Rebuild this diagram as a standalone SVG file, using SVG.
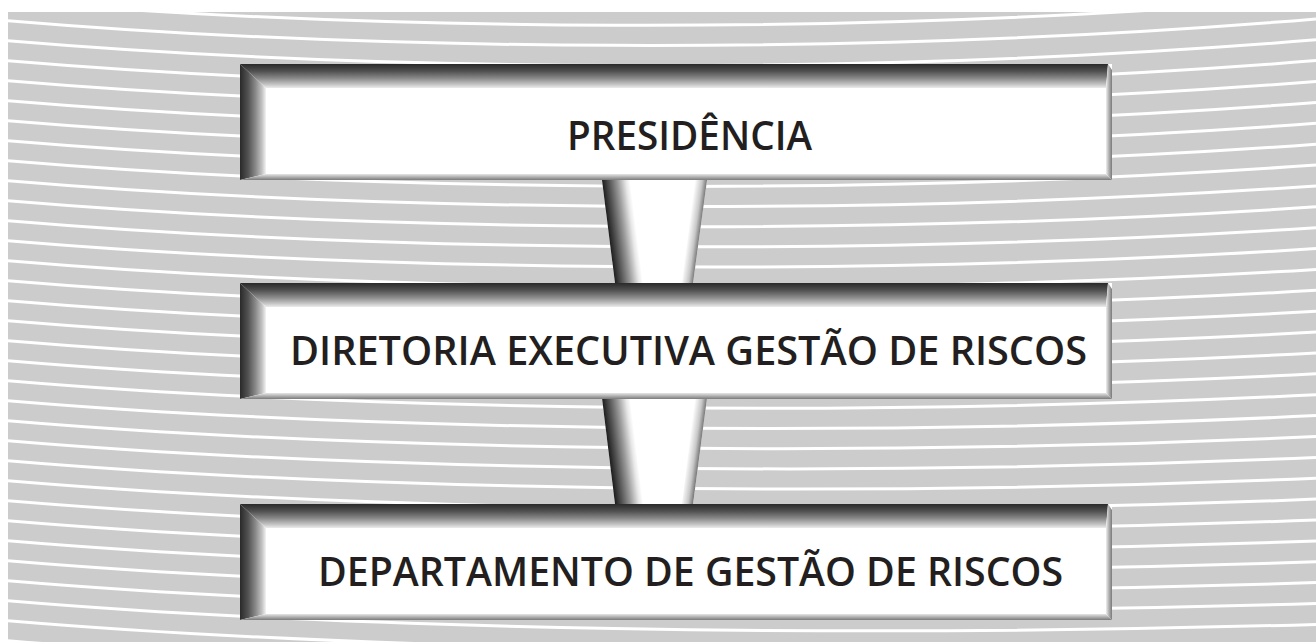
<svg xmlns="http://www.w3.org/2000/svg" width="1316" height="642" viewBox="0 0 1316 642">
<style>
.wl{fill:none;stroke:#ffffff;stroke-width:3}
.lbl{font-family:"Open Sans","Liberation Sans",sans-serif;font-weight:600;font-size:39px;fill:#231f20}
</style>
<defs>
<clipPath id="bgclip"><rect x="8" y="12" width="1308" height="630"/></clipPath>
<linearGradient id="gTop" x1="0" y1="0" x2="0" y2="1">
<stop offset="0" stop-color="#2a2a2a"/><stop offset="0.3" stop-color="#505050"/><stop offset="0.6" stop-color="#8a8a8a"/><stop offset="0.85" stop-color="#c4c4c4"/><stop offset="1" stop-color="#ececec"/>
</linearGradient>
<linearGradient id="gLeft" x1="0" y1="0" x2="1" y2="0">
<stop offset="0" stop-color="#2a2a2a"/><stop offset="0.3" stop-color="#505050"/><stop offset="0.6" stop-color="#8a8a8a"/><stop offset="0.85" stop-color="#c4c4c4"/><stop offset="1" stop-color="#f4f4f4"/>
</linearGradient>
<linearGradient id="gBot" x1="0" y1="0" x2="0" y2="1">
<stop offset="0" stop-color="#e6e6e6"/><stop offset="0.5" stop-color="#b0b0b0"/><stop offset="1" stop-color="#7a7a7a"/>
</linearGradient>
<linearGradient id="gRight" x1="0" y1="0" x2="1" y2="0">
<stop offset="0" stop-color="#eeeeee"/><stop offset="0.5" stop-color="#b0b0b0"/><stop offset="1" stop-color="#7a7a7a"/>
</linearGradient>
<linearGradient id="cL" gradientUnits="userSpaceOnUse" x1="602" y1="0" x2="630" y2="0" gradientTransform="skewX(7.2)">
<stop offset="0" stop-color="#1e1e1e"/><stop offset="0.25" stop-color="#555555"/><stop offset="0.55" stop-color="#9a9a9a"/><stop offset="0.85" stop-color="#e8e8e8"/><stop offset="1" stop-color="#ffffff"/>
</linearGradient>
<linearGradient id="cR" gradientUnits="userSpaceOnUse" x1="695" y1="0" x2="707" y2="0" gradientTransform="skewX(-7.7)">
<stop offset="0" stop-color="#ffffff"/><stop offset="0.6" stop-color="#c8c8c8"/><stop offset="1" stop-color="#7a7a7a"/>
</linearGradient>
<g id="box">
<rect x="0" y="0" width="872" height="116" fill="#ffffff"/>
<polygon points="0,0 868,0 866,24 26,24" fill="url(#gTop)"/>
<polygon points="0,0 26,24 26,110 0,116" fill="url(#gLeft)"/>
<polygon points="0,116 872,116 866,110 26,110" fill="url(#gBot)"/>
<polygon points="868,0 870,3 872,6 872,116 866,110 866,24" fill="url(#gRight)"/>
</g>
</defs>
<rect width="1316" height="642" fill="#ffffff"/>
<g id="background" clip-path="url(#bgclip)">
<rect x="8" y="12" width="1308" height="630" fill="#cccccc"/>
<path class="wl" d="M0 -60 C350 -30 850 -22 1316 -64.6"/>
<path class="wl" d="M0 -40 C350 -10 850 -2 1316 -43.8"/>
<path class="wl" d="M0 -20 C350 10 850 18 1316 -22.9"/>
<path class="wl" d="M0 0 C350 30 850 38 1316 -2"/>
<path class="wl" d="M0 20 C350 50 850 58 1316 18.9"/>
<path class="wl" d="M0 40 C350 70 850 78 1316 39.8"/>
<path class="wl" d="M0 60 C350 90 850 98 1316 60.6"/>
<path class="wl" d="M0 80 C350 110 850 118 1316 81.5"/>
<path class="wl" d="M0 100 C350 130 850 138 1316 102.4"/>
<path class="wl" d="M0 120 C350 150 850 158 1316 123.3"/>
<path class="wl" d="M0 140 C350 170 850 178 1316 144.2"/>
<path class="wl" d="M0 160 C350 190 850 198 1316 165"/>
<path class="wl" d="M0 180 C350 210 850 218 1316 185.9"/>
<path class="wl" d="M0 200 C350 230 850 238 1316 206.8"/>
<path class="wl" d="M0 220 C350 250 850 258 1316 227.7"/>
<path class="wl" d="M0 240 C350 270 850 278 1316 248.6"/>
<path class="wl" d="M0 260 C350 290 850 298 1316 269.4"/>
<path class="wl" d="M0 280 C350 310 850 318 1316 290.3"/>
<path class="wl" d="M0 300 C350 330 850 338 1316 311.2"/>
<path class="wl" d="M0 320 C350 350 850 358 1316 332.1"/>
<path class="wl" d="M0 340 C350 370 850 378 1316 353"/>
<path class="wl" d="M0 360 C350 390 850 398 1316 373.8"/>
<path class="wl" d="M0 380 C350 410 850 418 1316 394.7"/>
<path class="wl" d="M0 400 C350 430 850 438 1316 415.6"/>
<path class="wl" d="M0 420 C350 450 850 458 1316 436.5"/>
<path class="wl" d="M0 440 C350 470 850 478 1316 457.4"/>
<path class="wl" d="M0 460 C350 490 850 498 1316 478.2"/>
<path class="wl" d="M0 480 C350 510 850 518 1316 499.1"/>
<path class="wl" d="M0 500 C350 530 850 538 1316 520"/>
<path class="wl" d="M0 520 C350 550 850 558 1316 540.9"/>
<path class="wl" d="M0 540 C350 570 850 578 1316 561.8"/>
<path class="wl" d="M0 560 C350 590 850 598 1316 582.6"/>
<path class="wl" d="M0 580 C350 610 850 618 1316 603.5"/>
<path class="wl" d="M0 600 C350 630 850 638 1316 624.4"/>
<path class="wl" d="M0 620 C350 650 850 658 1316 645.3"/>
<path class="wl" d="M0 640 C350 670 850 678 1316 666.2"/>
</g>
<g id="connectors">
<g transform="translate(0,180)">
<polygon points="602,0 707,0 693,103 615,103" fill="#ffffff"/>
<polygon points="602,0 630,0 643,103 615,103" fill="url(#cL)"/>
<polygon points="695,0 707,0 693,103 682,103" fill="url(#cR)"/>
</g>
<g transform="translate(0,398)">
<polygon points="602,0 707,0 693,106 615,106" fill="#ffffff"/>
<polygon points="602,0 630,0 643,106 615,106" fill="url(#cL)"/>
<polygon points="695,0 707,0 693,106 682,106" fill="url(#cR)"/>
</g>
</g>
<g id="node-presidencia">
<use href="#box" x="240" y="64"/>
<text class="lbl" x="567" y="150" textLength="245" lengthAdjust="spacingAndGlyphs">PRESIDÊNCIA</text>
</g>
<g id="node-diretoria">
<use href="#box" x="240" y="283"/>
<text class="lbl" x="290" y="365" textLength="797" lengthAdjust="spacingAndGlyphs">DIRETORIA EXECUTIVA GESTÃO DE RISCOS</text>
</g>
<g id="node-departamento">
<use href="#box" x="240" y="504"/>
<text class="lbl" x="318" y="586" textLength="745" lengthAdjust="spacingAndGlyphs">DEPARTAMENTO DE GESTÃO DE RISCOS</text>
</g>
</svg>
